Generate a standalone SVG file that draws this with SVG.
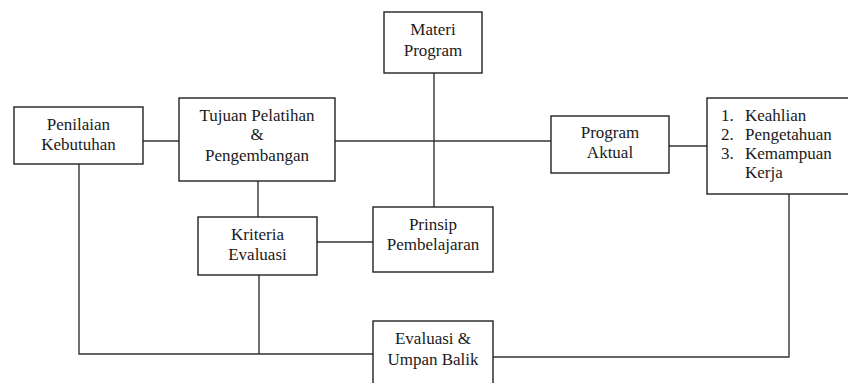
<svg xmlns="http://www.w3.org/2000/svg" width="848" height="383" viewBox="0 0 848 383">
<style>
.box{fill:#fff;stroke:#222;stroke-width:1.4}
.ln{fill:none;stroke:#333;stroke-width:1.4}
text{font-family:"Liberation Serif","Times New Roman",serif;font-size:17px;fill:#1a1a1a}
.c{text-anchor:middle}
</style>
<rect width="848" height="383" fill="#fff"/>
<g id="connectors">
<path class="ln" d="M143,141 H179"/>
<path class="ln" d="M335,141 H551"/>
<path class="ln" d="M669,146 H707"/>
<path class="ln" d="M434,73 V207"/>
<path class="ln" d="M258,181 V217"/>
<path class="ln" d="M317,242 H373"/>
<path class="ln" d="M79,164 V354 H373"/>
<path class="ln" d="M259,275 V354"/>
<path class="ln" d="M493,357 H789 V194"/>
</g>
<g id="penilaian">
<rect class="box" x="14" y="107" width="129" height="57"/>
<text class="c" x="78.5" y="130">Penilaian</text>
<text class="c" x="78.5" y="150">Kebutuhan</text>
</g>
<g id="tujuan">
<rect class="box" x="179" y="98" width="156" height="83"/>
<text class="c" x="257" y="121">Tujuan Pelatihan</text>
<text class="c" x="257" y="140">&amp;</text>
<text class="c" x="257" y="161">Pengembangan</text>
</g>
<g id="materi">
<rect class="box" x="384" y="12" width="98" height="61"/>
<text class="c" x="433" y="35">Materi</text>
<text class="c" x="433" y="56">Program</text>
</g>
<g id="prinsip">
<rect class="box" x="373" y="207" width="120" height="65"/>
<text class="c" x="433" y="230">Prinsip</text>
<text class="c" x="433" y="250">Pembelajaran</text>
</g>
<g id="program-aktual">
<rect class="box" x="551" y="116" width="118" height="57"/>
<text class="c" x="610" y="138">Program</text>
<text class="c" x="610" y="158">Aktual</text>
</g>
<g id="hasil">
<rect class="box" x="707" y="98" width="145" height="96"/>
<text x="721" y="121">1.</text>
<text x="745" y="121">Keahlian</text>
<text x="721" y="140">2.</text>
<text x="745" y="140">Pengetahuan</text>
<text x="721" y="159">3.</text>
<text x="745" y="159">Kemampuan</text>
<text x="745" y="178">Kerja</text>
</g>
<g id="kriteria">
<rect class="box" x="198" y="217" width="119" height="58"/>
<text class="c" x="257.5" y="240">Kriteria</text>
<text class="c" x="257.5" y="260">Evaluasi</text>
</g>
<g id="evaluasi">
<rect class="box" x="373" y="321" width="120" height="70"/>
<text class="c" x="433" y="344">Evaluasi &amp;</text>
<text class="c" x="433" y="365">Umpan Balik</text>
</g>
</svg>
